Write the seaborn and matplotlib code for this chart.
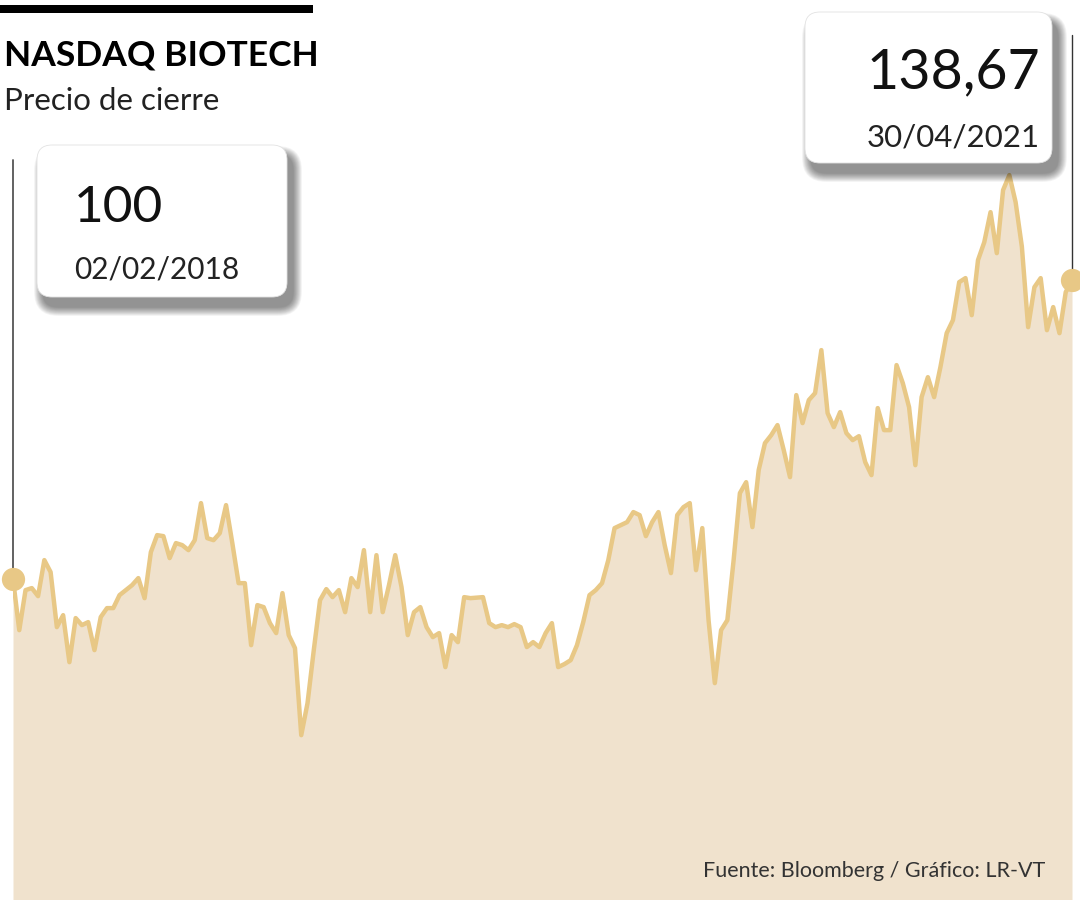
import matplotlib
matplotlib.use("Agg")
import matplotlib.pyplot as plt
import matplotlib.patches as mpatches
import matplotlib.transforms as mtransforms
import pandas as pd
import seaborn as sns

# --- data (weekly close, index 02/02/2018 = 100) ---
title = "NASDAQ BIOTECH"
subtitle = "Precio de cierre"
source = "Fuente: Bloomberg / Gráfico: LR-VT"
first_value_label = "100"
first_date_label = "02/02/2018"
last_value_label = "138,67"
last_date_label = "30/04/2021"
start_date = "2018-02-02"

values = [
    100.00, 93.40, 98.58, 98.84, 97.80, 102.46, 100.91, 93.79, 95.34, 89.26,
    94.96, 94.05, 94.44, 90.82, 95.09, 96.25, 96.25, 97.93, 98.58, 99.22,
    100.13, 97.54, 103.49, 105.69, 105.56, 102.72, 104.66, 104.40, 103.75, 105.04,
    109.83, 105.30, 105.04, 105.95, 109.57, 104.66, 99.48, 99.48, 91.46, 96.64,
    96.38, 94.31, 93.02, 98.19,
    92.76, 91.08, 79.82, 83.96, 90.82, 97.28, 98.71, 97.67, 98.58, 95.73,
    100.13, 98.97, 103.75, 95.73, 103.10, 95.73, 99.22, 103.10, 98.97, 92.76,
    95.73, 96.38, 93.79, 92.50, 93.02, 88.62, 92.76, 91.85, 97.67, 97.54,
    97.60, 97.67, 94.31, 93.79, 94.05, 93.79, 94.18, 93.79, 91.21, 91.85,
    91.21, 93.02, 94.31,
    88.62, 89.01, 89.52, 91.46, 94.44, 97.93, 98.58, 99.48, 102.46, 106.60,
    106.98, 107.37, 108.67, 108.28, 105.56, 107.37, 108.67, 104.40, 100.78, 108.28,
    109.31, 109.83, 101.16, 106.60, 94.70, 86.55, 93.40, 94.70, 102.46, 111.12,
    112.54, 106.73, 114.10, 117.59, 118.62, 119.92, 116.68, 113.19, 123.80, 120.18,
    123.15, 124.06, 129.62,
    121.47, 119.66, 121.60, 118.88, 117.98, 118.49, 115.13, 113.45, 122.12, 119.27,
    119.27, 127.68, 125.35, 122.24, 114.74, 123.54, 126.12, 123.54, 127.42, 131.81,
    133.50, 138.41, 138.93, 134.14, 141.26, 143.58, 147.46, 142.16, 150.31, 152.25,
    148.76, 143.00, 132.59, 137.76, 138.93, 132.20, 135.18, 131.81, 137.12, 138.67,
]

df = pd.DataFrame({
    "fecha": pd.date_range(start_date, periods=len(values), freq="7D"),
    "precio": values,
})

LINE = "#E8C886"
FILL = "#F0E2CD"
Y_LO, Y_HI = 58.5, 174.9

sns.set_theme(style="white")
plt.rcParams["font.family"] = ["Lato", "DejaVu Sans"]

fig = plt.figure(figsize=(10.8, 9), dpi=100)
fig.patch.set_facecolor("white")

# main chart axes
ax = fig.add_axes([13 / 1080, 0, 1059 / 1080, 1])
ax.fill_between(df["fecha"], df["precio"], Y_LO, color=FILL, lw=0, zorder=1)
sns.lineplot(data=df, x="fecha", y="precio", ax=ax, color=LINE, linewidth=3.2,
             zorder=2, legend=False)
ax.set_xlim(df["fecha"].iloc[0], df["fecha"].iloc[-1])
ax.set_ylim(Y_LO, Y_HI)
ax.axis("off")

# connectors from the end points up to the boxes
blend = mtransforms.blended_transform_factory(ax.transData, ax.transAxes)
ends = [(df["fecha"].iloc[0], df["precio"].iloc[0], 1 - 160 / 900, "#555555", 1.3),
        (df["fecha"].iloc[-1], df["precio"].iloc[-1], 1 - 35 / 900, "#333333", 1.0)]
for d, v, top, col, lw in ends:
    frac = (v - Y_LO) / (Y_HI - Y_LO)
    ax.plot([d, d], [frac, top], transform=blend, color=col, lw=lw,
            zorder=3, clip_on=False)

ax.scatter([df["fecha"].iloc[0], df["fecha"].iloc[-1]],
           [df["precio"].iloc[0], df["precio"].iloc[-1]],
           s=280, color=LINE, zorder=4, clip_on=False, linewidths=0)

# overlay in pixel coordinates for titles and callout boxes
ov = fig.add_axes([0, 0, 1, 1], zorder=10)
ov.set_xlim(0, 1080)
ov.set_ylim(900, 0)
ov.axis("off")
ov.patch.set_alpha(0)


def callout(x, y, w, h):
    # soft drop shadow, down and to the right
    for i in range(18, 0, -1):
        sh = mpatches.FancyBboxPatch(
            (x + 6 - i * 0.5, y + 10 - i * 0.5), w + i * 1.0, h + i * 1.0,
            boxstyle=f"round,pad=0,rounding_size={15 + i * 0.5}",
            facecolor="black", edgecolor="none", alpha=0.028)
        ov.add_patch(sh)
    box = mpatches.FancyBboxPatch(
        (x, y), w, h, boxstyle="round,pad=0,rounding_size=15",
        facecolor="white", edgecolor="#e2e2e2", linewidth=0.6)
    ov.add_patch(box)


callout(37, 145, 250, 152)
callout(805, 12, 247, 151)

ov.text(74, 222, first_value_label, fontsize=37, color="#111111", va="baseline")
ov.text(74, 278, first_date_label, fontsize=21.5, color="#222222", va="baseline")
ov.text(1040, 88, last_value_label, fontsize=40, color="#111111",
        va="baseline", ha="right")
ov.text(1040, 146, last_date_label, fontsize=22.5, color="#222222",
        va="baseline", ha="right")

ov.add_patch(mpatches.Rectangle((0, 5), 313, 8, facecolor="black", edgecolor="none"))
ov.text(4, 66, title, fontsize=25.5, fontweight="bold", color="black", va="baseline")
ov.text(4, 110, subtitle, fontsize=22.5, color="#222222", va="baseline")
ov.text(1045, 877, source, fontsize=15.5, color="#333333", va="baseline", ha="right")

fig.savefig("out.png", dpi=100, facecolor="white")
